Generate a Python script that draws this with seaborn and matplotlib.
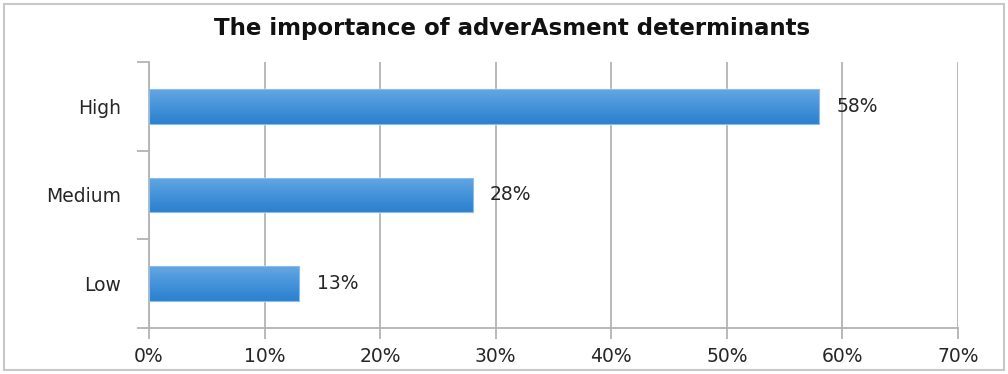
import numpy as np
import pandas as pd
import matplotlib
matplotlib.use("Agg")
import matplotlib.pyplot as plt
import seaborn as sns
from matplotlib.colors import LinearSegmentedColormap
from matplotlib.patches import Rectangle

categories = ["High", "Medium", "Low"]
shares = [58, 28, 13]
x_ticks = [0, 10, 20, 30, 40, 50, 60, 70]
x_tick_labels = [f"{t}%" for t in x_ticks]
title = "The importance of adverAsment determinants"

df = pd.DataFrame({"level": categories, "share": shares})

sns.set_theme(style="white")
plt.rcParams["font.family"] = ["DejaVu Sans"]
plt.rcParams["font.sans-serif"] = ["DejaVu Sans"]
FONT = ["DejaVu Sans"]
TXT = "#262626"
FS = 13.5

fig = plt.figure(figsize=(10.08, 3.74), dpi=100)
ax = fig.add_axes([149 / 1008, 1 - 328 / 374, (958 - 149) / 1008, (328 - 62) / 374])

sns.barplot(data=df, x="share", y="level", orient="h", width=0.39,
            color="#3a8ad6", ax=ax, zorder=3, saturation=1)

# vertical gradient fill on each bar, lighter at the top, darker at the bottom
grad = LinearSegmentedColormap.from_list("barblue", ["#65a6e2", "#4593da", "#2c80cf"])
for patch in ax.patches:
    x0, y0 = patch.get_x(), patch.get_y()
    w, h = patch.get_width(), patch.get_height()
    img = ax.imshow(np.linspace(0, 1, 64).reshape(-1, 1), cmap=grad, aspect="auto",
                    extent=[x0, x0 + w, y0 + h, y0], origin="upper",
                    zorder=3.5, interpolation="bilinear")
    img.set_clip_path(patch)
    edge = Rectangle((x0, y0), w, h, fill=False, edgecolor="#8bbdec", lw=0.8, zorder=4)
    ax.add_patch(edge)

ax.set_xlim(0, 70)
ax.set_ylim(2.5, -0.5)
ax.set_xticks(x_ticks)
ax.set_xticklabels(x_tick_labels, family=FONT)
ax.set_yticks(range(len(categories)))
ax.set_yticklabels(categories, family=FONT)
ax.set_xlabel("")
ax.set_ylabel("")

ax.grid(axis="x", color="#b3b3b3", lw=1.3, zorder=0)
ax.grid(axis="y", visible=False)

for side in ["top", "right"]:
    ax.spines[side].set_visible(False)
for side in ["left", "bottom"]:
    ax.spines[side].set_color("#b3b3b3")
    ax.spines[side].set_linewidth(1.3)

ax.tick_params(axis="x", which="major", direction="out", length=8, width=1.3,
               color="#b3b3b3", labelsize=FS, labelcolor=TXT, pad=6, bottom=True)
ax.tick_params(axis="y", which="major", length=0, labelsize=FS,
               labelcolor=TXT, pad=20)
ax.set_yticks([-0.5, 0.5, 1.5, 2.5], minor=True)
ax.tick_params(axis="y", which="minor", direction="out", length=9, width=1.3,
               color="#b3b3b3", left=True)

for i, v in enumerate(shares):
    ax.text(v + 1.5, i, f"{v}%", va="center", ha="left", fontsize=FS,
            color=TXT, zorder=5, family=FONT)

fig.text(0.508, 1 - 29 / 374, title, ha="center", va="center", fontsize=16.5,
         fontweight="bold", color="#111111", family=FONT)

# light frame round the whole chart area
frame = Rectangle((4 / 1008, 4 / 374), 1 - 8 / 1008, 1 - 8 / 374, transform=fig.transFigure,
                  fill=False, edgecolor="#c8c8c8", lw=1.5)
fig.patches.append(frame)

fig.savefig("out.png", dpi=100)
